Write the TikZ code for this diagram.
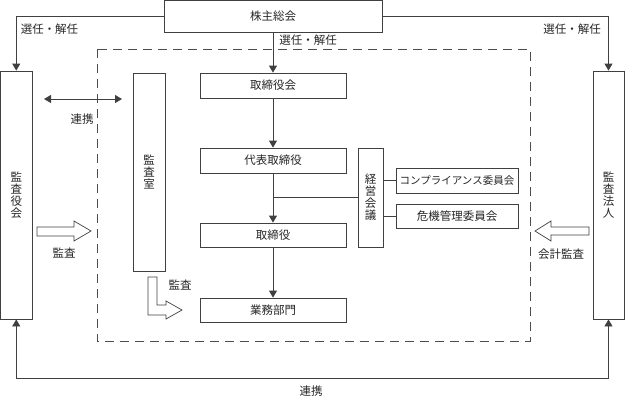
\documentclass[tikz,border=0pt]{standalone}
\usepackage{fontspec}
\setmainfont{Noto Sans CJK JP}
\usetikzlibrary{arrows.meta}
\begin{document}
\begin{tikzpicture}[x=1pt,y=-1pt,
  every node/.style={font=\fontsize{11.5}{12}\selectfont, text=black!85},
  box/.style={draw=black!75, line width=0.8pt, inner sep=0pt, align=center, fill=white},
  conn/.style={draw=black!75, line width=0.8pt},
  arr/.style={conn, -{Triangle[width=8pt,length=7pt]}},
  darr/.style={conn, {Triangle[width=8pt,length=7pt]}-{Triangle[width=8pt,length=7pt]}},
  blockarrow/.style={draw=black!75, line width=0.7pt, fill=white, line join=miter},
  lbl/.style={inner sep=0pt}
]
\useasboundingbox (0,0) rectangle (625,397);

% dashed company frame
\draw[black!70, line width=0.8pt, dash pattern=on 9pt off 6pt] (97,49) rectangle (530,341);

% nodes
\node[box, minimum width=218, minimum height=31.5] (kabu) at (273,16.25) {株主総会};
\node[box, minimum width=31.5, minimum height=248] (kansayaku) at (16.25,195) {監\\査\\役\\会};
\node[box, minimum width=31, minimum height=248] (hojin) at (608.5,195) {監\\査\\法\\人};
\node[box, minimum width=32, minimum height=198] (kansashitsu) at (149,172) {監\\査\\室};
\node[box, minimum width=146, minimum height=25] (torikai) at (273,85.5) {取締役会};
\node[box, minimum width=146, minimum height=25] (daihyo) at (273,160.5) {代表取締役};
\node[box, minimum width=146, minimum height=24] (torishimari) at (273,235) {取締役};
\node[box, minimum width=146, minimum height=24] (gyomu) at (273,310) {業務部門};
\node[box, minimum width=25, minimum height=99] (keiei) at (370.5,197.5) {経\\営\\会\\議};
\node[box, minimum width=122, minimum height=25, font=\fontsize{10.5}{12}\selectfont] (comp) at (457,180.5) {コンプライアンス委員会};
\node[box, minimum width=122, minimum height=24] (kiki) at (457,216) {危機管理委員会};

% connectors
\draw[arr] (kabu.west) -| (kansayaku.north);
\draw[arr] (kabu.east) -| (hojin.north);
\draw[arr] (kabu.south) -- (torikai.north);
\draw[arr] (torikai.south) -- (daihyo.north);
\draw[arr] (daihyo.south) -- (torishimari.north);
\draw[arr] (torishimari.south) -- (gyomu.north);
\draw[conn] (keiei.west) -- (keiei.west -| daihyo.south);
\draw[conn] (comp.west -| keiei.east) -- (comp.west);
\draw[conn] (kiki.west -| keiei.east) -- (kiki.west);
\coordinate (bl) at (16.25,378);
\coordinate (br) at (608.5,378);
\draw[darr] (kansayaku.south) -- (bl) -- (br) -- (hojin.south);
\coordinate (r1) at (44,99);
\coordinate (r2) at (122,99);
\draw[darr] (r1) -- (r2);

% block arrows
\draw[blockarrow] (37,227) -- (74,227) -- (74,221) -- (91,231) -- (74,241) -- (74,236) -- (37,236) -- cycle;
\draw[blockarrow] (589,227) -- (551,227) -- (551,221) -- (535,231) -- (551,241) -- (551,235) -- (589,235) -- cycle;
\draw[blockarrow] (148,277) -- (157,277) -- (157,305) -- (166,305) -- (166,301) -- (182,310) -- (166,319) -- (166,315) -- (148,315) -- cycle;

% labels
\node[lbl] (l1) at (49.5,29) {選任・解任};
\node[lbl] (l2) at (572,29) {選任・解任};
\node[lbl] (l3) at (308,40) {選任・解任};
\node[lbl] (l4) at (82,119) {連携};
\node[lbl] (l5) at (64,253) {監査};
\node[lbl] (l6) at (561,254) {会計監査};
\node[lbl] (l7) at (180,285) {監査};
\node[lbl] (l8) at (311,391) {連携};
\end{tikzpicture}
\end{document}
